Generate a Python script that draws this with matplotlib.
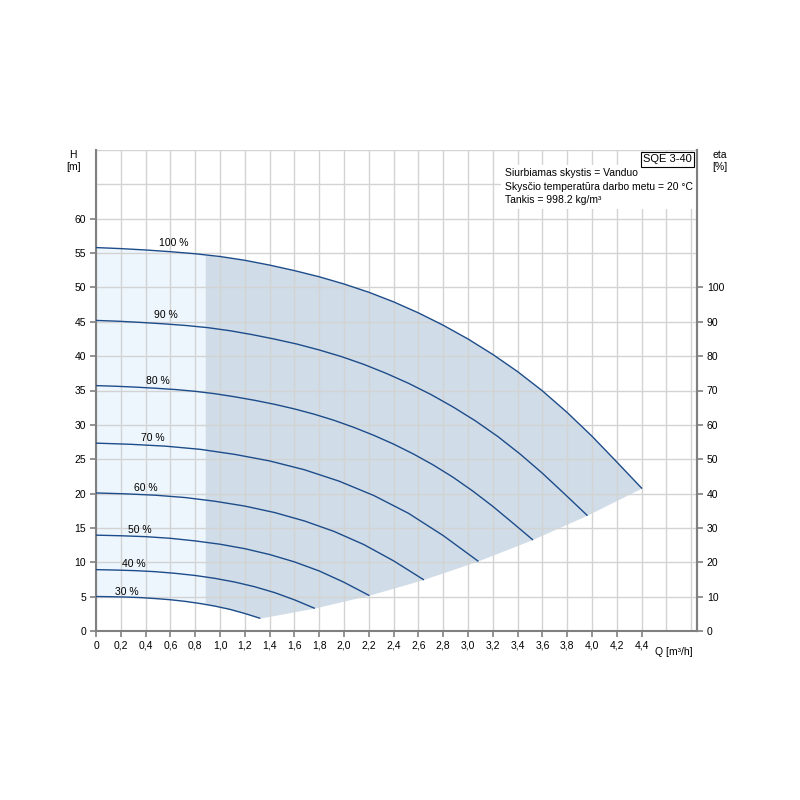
import numpy as np
import matplotlib.pyplot as plt
from matplotlib.ticker import FixedLocator

plt.rcParams['font.family'] = ['Liberation Sans', 'DejaVu Sans']
plt.rcParams['font.size'] = 7.5

# Kreivės (Q [m³/h], H [m]) skirtingiems greičiams
q100 = [0, 0.2, 0.4, 0.6, 0.8, 1.0, 1.2, 1.4, 1.6, 1.8, 2.0, 2.2, 2.4, 2.6, 2.8,
        3.0, 3.2, 3.4, 3.6, 3.8, 4.0, 4.2, 4.4]
h100 = [55.8, 55.65, 55.45, 55.2, 54.9, 54.5, 53.95, 53.25, 52.45, 51.55, 50.5, 49.3,
        47.9, 46.3, 44.5, 42.5, 40.25, 37.75, 34.95, 31.8, 28.35, 24.6, 20.8]
q90 = [0, 0.18, 0.36, 0.54, 0.72, 0.9, 1.08, 1.26, 1.44, 1.62, 1.8, 1.98, 2.16, 2.34,
       2.52, 2.7, 2.88, 3.06, 3.24, 3.42, 3.6, 3.78, 3.96]
h90 = [45.2, 45.08, 44.91, 44.71, 44.47, 44.15, 43.7, 43.13, 42.48, 41.76, 40.9, 39.93,
       38.8, 37.5, 36.05, 34.43, 32.6, 30.58, 28.31, 25.76, 22.96, 19.93, 16.85]
q80 = [0, 0.16, 0.32, 0.48, 0.64, 0.8, 0.96, 1.12, 1.28, 1.44, 1.6, 1.76, 1.92, 2.08,
       2.24, 2.4, 2.56, 2.72, 2.88, 3.04, 3.2, 3.36, 3.52]
h80 = [35.71, 35.62, 35.49, 35.33, 35.14, 34.88, 34.53, 34.08, 33.57, 32.99, 32.32,
       31.55, 30.66, 29.63, 28.48, 27.2, 25.76, 24.16, 22.37, 20.35, 18.14, 15.74, 13.31]
q70 = [0, 0.28, 0.56, 0.84, 1.12, 1.4, 1.68, 1.96, 2.24, 2.52, 2.8, 3.08]
h70 = [27.34, 27.17, 26.9, 26.44, 25.7, 24.75, 23.47, 21.81, 19.72, 17.13, 13.89, 10.19]
q60 = [0, 0.24, 0.48, 0.72, 0.96, 1.2, 1.44, 1.68, 1.92, 2.16, 2.4, 2.64]
h60 = [20.09, 19.96, 19.76, 19.42, 18.88, 18.18, 17.24, 16.02, 14.49, 12.58, 10.21, 7.49]
q50 = [0, 0.2, 0.4, 0.6, 0.8, 1.0, 1.2, 1.4, 1.6, 1.8, 2.0, 2.2]
h50 = [13.95, 13.86, 13.73, 13.49, 13.11, 12.63, 11.98, 11.13, 10.06, 8.74, 7.09, 5.2]
q40 = [0, 0.16, 0.32, 0.48, 0.64, 0.8, 0.96, 1.12, 1.28, 1.44, 1.6, 1.76]
h40 = [8.93, 8.87, 8.78, 8.63, 8.39, 8.08, 7.66, 7.12, 6.44, 5.59, 4.54, 3.33]
q30 = [0, 0.12, 0.24, 0.36, 0.48, 0.6, 0.72, 0.84, 0.96, 1.08, 1.2, 1.32]
h30 = [5.02, 4.99, 4.94, 4.86, 4.72, 4.55, 4.31, 4.0, 3.62, 3.15, 2.55, 1.87]

curves = [(q100, h100), (q90, h90), (q80, h80), (q70, h70),
          (q60, h60), (q50, h50), (q40, h40), (q30, h30)]
speed_labels = ["100 %", "90 %", "80 %", "70 %", "60 %", "50 %", "40 %", "30 %"]
label_q = [0.63, 0.56, 0.50, 0.46, 0.40, 0.355, 0.305, 0.25]
label_h = [56.5, 46.0, 36.4, 28.1, 20.8, 14.7, 9.8, 5.7]

# Kreivių galų linija (darbo srities riba)
end_q = [1.32, 1.76, 2.2, 2.64, 3.08, 3.52, 3.96, 4.4]
end_h = [1.87, 3.33, 5.2, 7.49, 10.19, 13.31, 16.85, 20.8]
q_split = 0.88

x_ticks = [0, 0.2, 0.4, 0.6, 0.8, 1.0, 1.2, 1.4, 1.6, 1.8, 2.0, 2.2, 2.4, 2.6, 2.8,
           3.0, 3.2, 3.4, 3.6, 3.8, 4.0, 4.2, 4.4]
y_ticks = [0, 5, 10, 15, 20, 25, 30, 35, 40, 45, 50, 55, 60]
eta_ticks = [0, 10, 20, 30, 40, 50, 60, 70, 80, 90, 100]

line_col = "#1d4c8a"
spine_col = "#808080"
grid_col = "#d3d3d3"

fig = plt.figure(figsize=(8, 8), dpi=100)
ax = fig.add_axes([0.12, 0.21125, 0.75125, 0.60125])

# Užpildytos sritys
qq = np.linspace(0, q_split, 100)
ax.fill_between(qq, np.interp(qq, q30, h30), np.interp(qq, q100, h100),
                color="#eef6fd", lw=0, zorder=1)
qq = np.linspace(q_split, 4.4, 400)
low = np.where(qq <= end_q[0], np.interp(qq, q30, h30), np.interp(qq, end_q, end_h))
ax.fill_between(qq, low, np.interp(qq, q100, h100), color="#d0dce8", lw=0, zorder=1)

for (q, h), lab, lq, lh in zip(curves, speed_labels, label_q, label_h):
    ax.plot(q, h, color=line_col, lw=1.0, zorder=3)
    ax.text(lq, lh, lab, ha="center", va="center", zorder=4)

ax.set_xlim(0, 4.847)
ax.set_ylim(0, 70)

ax.set_xticks(x_ticks)
ax.set_xticklabels(["0"] + [f"{v:.1f}".replace(".", ",") for v in x_ticks[1:]])
ax.xaxis.set_minor_locator(FixedLocator([4.6, 4.8]))
ax.set_yticks(y_ticks)
ax.yaxis.set_minor_locator(FixedLocator([65, 70]))
ax.grid(True, which="both", color=grid_col, lw=1.0, zorder=2)
ax.tick_params(which="major", length=4, width=1.2, color=spine_col, pad=3)
ax.tick_params(which="minor", length=0)

for s in ["left", "bottom", "right"]:
    ax.spines[s].set_color(spine_col)
    ax.spines[s].set_linewidth(1.5)
ax.spines["top"].set_visible(False)

ax2 = ax.twinx()
ax2.set_ylim(0, 140)
ax2.set_yticks(eta_ticks)
ax2.tick_params(length=4, width=1.2, color=spine_col, pad=3)
for s in ["left", "bottom", "top"]:
    ax2.spines[s].set_visible(False)
ax2.spines["right"].set_color(spine_col)
ax2.spines["right"].set_linewidth(1.5)

# Ašių pavadinimai
ax.text(4.51, -0.033, "Q [m³/h]", transform=ax.get_xaxis_transform(),
        ha="left", va="top")
fig.text(73 / 800, 1 - 155 / 800, "H", ha="center", va="center")
fig.text(74 / 800, 1 - 167 / 800, "[m]", ha="center", va="center")
fig.text(720 / 800, 1 - 155 / 800, "eta", ha="center", va="center")
fig.text(720 / 800, 1 - 167 / 800, "[%]", ha="center", va="center")

# Informacija
ax.text(0.991, 0.991, "SQE 3-40", transform=ax.transAxes, ha="right", va="top",
        fontsize=8, zorder=6,
        bbox=dict(boxstyle="square,pad=0.2", fc="white", ec="black", lw=0.8))
ax.text(0.68, 0.962,
        "Siurbiamas skystis = Vanduo\nSkysčio temperatūra darbo metu = 20 °C\nTankis = 998.2 kg/m³",
        transform=ax.transAxes, ha="left", va="top", linespacing=1.45, zorder=5,
        bbox=dict(boxstyle="square,pad=0.35", fc="white", ec="none"))

fig.savefig("out.png", dpi=100)
